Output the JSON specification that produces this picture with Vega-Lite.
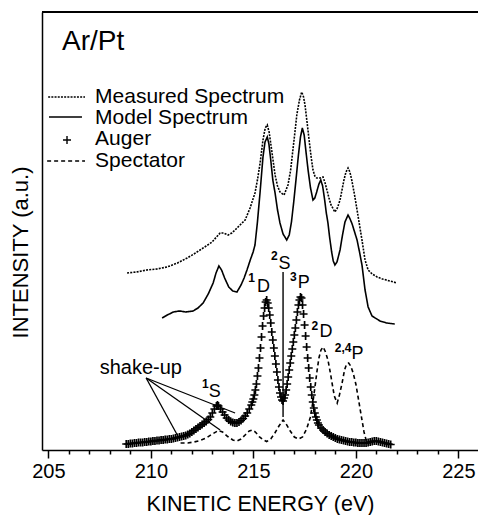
{
"$schema":"https://vega.github.io/schema/vega-lite/v6.json",
"width":436,"height":438,
"autosize":{"type":"none"},
"padding":{"left":42,"top":12,"right":0,"bottom":65},
"background":"white",
"config":{"view":{"stroke":null},"text":{"font":"Liberation Sans","color":"black"}},
"datasets":{
"spectra":[
{"s":"Measured","x":208.84,"y":177},{"s":"Measured","x":209.3,"y":178},{"s":"Measured","x":209.8,"y":180},{"s":"Measured","x":210.3,"y":181},{"s":"Measured","x":210.79,"y":183},{"s":"Measured","x":211.3,"y":187},{"s":"Measured","x":211.77,"y":192},{"s":"Measured","x":212.1,"y":196},{"s":"Measured","x":212.4,"y":200},{"s":"Measured","x":212.7,"y":204},{"s":"Measured","x":212.99,"y":208},{"s":"Measured","x":213.2,"y":213},{"s":"Measured","x":213.38,"y":217},{"s":"Measured","x":213.55,"y":217},{"s":"Measured","x":213.77,"y":215},{"s":"Measured","x":213.95,"y":217},{"s":"Measured","x":214.11,"y":220},{"s":"Measured","x":214.35,"y":225},{"s":"Measured","x":214.6,"y":230},{"s":"Measured","x":214.84,"y":242},{"s":"Measured","x":215.08,"y":257},{"s":"Measured","x":215.2,"y":270},{"s":"Measured","x":215.33,"y":287},{"s":"Measured","x":215.47,"y":310},{"s":"Measured","x":215.58,"y":322},{"s":"Measured","x":215.68,"y":325},{"s":"Measured","x":215.77,"y":318},{"s":"Measured","x":215.86,"y":305},{"s":"Measured","x":215.96,"y":290},{"s":"Measured","x":216.06,"y":275},{"s":"Measured","x":216.18,"y":264},{"s":"Measured","x":216.3,"y":258},{"s":"Measured","x":216.5,"y":255},{"s":"Measured","x":216.69,"y":265},{"s":"Measured","x":216.82,"y":280},{"s":"Measured","x":216.93,"y":300},{"s":"Measured","x":217.03,"y":318},{"s":"Measured","x":217.12,"y":335},{"s":"Measured","x":217.25,"y":350},{"s":"Measured","x":217.36,"y":358},{"s":"Measured","x":217.45,"y":353},{"s":"Measured","x":217.52,"y":345},{"s":"Measured","x":217.62,"y":328},{"s":"Measured","x":217.72,"y":310},{"s":"Measured","x":217.82,"y":293},{"s":"Measured","x":217.91,"y":280},{"s":"Measured","x":218.0,"y":274},{"s":"Measured","x":218.09,"y":272},{"s":"Measured","x":218.25,"y":272},{"s":"Measured","x":218.4,"y":273},{"s":"Measured","x":218.5,"y":267},{"s":"Measured","x":218.59,"y":260},{"s":"Measured","x":218.69,"y":252},{"s":"Measured","x":218.79,"y":245},{"s":"Measured","x":218.98,"y":238},{"s":"Measured","x":219.1,"y":242},{"s":"Measured","x":219.23,"y":250},{"s":"Measured","x":219.42,"y":270},{"s":"Measured","x":219.52,"y":278},{"s":"Measured","x":219.62,"y":282},{"s":"Measured","x":219.71,"y":278},{"s":"Measured","x":219.8,"y":270},{"s":"Measured","x":219.93,"y":256},{"s":"Measured","x":220.06,"y":240},{"s":"Measured","x":220.18,"y":225},{"s":"Measured","x":220.3,"y":210},{"s":"Measured","x":220.45,"y":190},{"s":"Measured","x":220.6,"y":180},{"s":"Measured","x":220.8,"y":176},{"s":"Measured","x":221.04,"y":173},{"s":"Measured","x":221.3,"y":171},{"s":"Measured","x":221.67,"y":169},{"s":"Measured","x":222.01,"y":167},
{"s":"Model","x":210.55,"y":132},{"s":"Model","x":210.8,"y":135},{"s":"Model","x":211.1,"y":138},{"s":"Model","x":211.4,"y":139},{"s":"Model","x":211.7,"y":138},{"s":"Model","x":212.06,"y":139},{"s":"Model","x":212.3,"y":142},{"s":"Model","x":212.55,"y":147},{"s":"Model","x":212.8,"y":156},{"s":"Model","x":213.04,"y":167},{"s":"Model","x":213.18,"y":177},{"s":"Model","x":213.32,"y":184},{"s":"Model","x":213.45,"y":180},{"s":"Model","x":213.6,"y":172},{"s":"Model","x":213.8,"y":163},{"s":"Model","x":214.0,"y":159},{"s":"Model","x":214.2,"y":158},{"s":"Model","x":214.4,"y":165},{"s":"Model","x":214.55,"y":172},{"s":"Model","x":214.69,"y":180},{"s":"Model","x":214.85,"y":190},{"s":"Model","x":214.99,"y":198},{"s":"Model","x":215.08,"y":205},{"s":"Model","x":215.2,"y":228},{"s":"Model","x":215.33,"y":258},{"s":"Model","x":215.47,"y":293},{"s":"Model","x":215.57,"y":308},{"s":"Model","x":215.68,"y":313},{"s":"Model","x":215.76,"y":306},{"s":"Model","x":215.85,"y":290},{"s":"Model","x":215.95,"y":270},{"s":"Model","x":216.06,"y":257},{"s":"Model","x":216.18,"y":240},{"s":"Model","x":216.3,"y":227},{"s":"Model","x":216.45,"y":216},{"s":"Model","x":216.63,"y":210},{"s":"Model","x":216.75,"y":215},{"s":"Model","x":216.86,"y":228},{"s":"Model","x":216.97,"y":248},{"s":"Model","x":217.08,"y":270},{"s":"Model","x":217.2,"y":295},{"s":"Model","x":217.3,"y":313},{"s":"Model","x":217.39,"y":322},{"s":"Model","x":217.48,"y":315},{"s":"Model","x":217.57,"y":298},{"s":"Model","x":217.67,"y":280},{"s":"Model","x":217.79,"y":262},{"s":"Model","x":217.91,"y":250},{"s":"Model","x":218.0,"y":252},{"s":"Model","x":218.09,"y":258},{"s":"Model","x":218.2,"y":266},{"s":"Model","x":218.29,"y":270},{"s":"Model","x":218.38,"y":264},{"s":"Model","x":218.48,"y":250},{"s":"Model","x":218.56,"y":237},{"s":"Model","x":218.64,"y":227},{"s":"Model","x":218.72,"y":213},{"s":"Model","x":218.82,"y":198},{"s":"Model","x":218.9,"y":189},{"s":"Model","x":218.98,"y":185},{"s":"Model","x":219.08,"y":188},{"s":"Model","x":219.23,"y":200},{"s":"Model","x":219.35,"y":215},{"s":"Model","x":219.47,"y":228},{"s":"Model","x":219.62,"y":235},{"s":"Model","x":219.72,"y":231},{"s":"Model","x":219.82,"y":226},{"s":"Model","x":219.94,"y":218},{"s":"Model","x":220.06,"y":210},{"s":"Model","x":220.18,"y":198},{"s":"Model","x":220.3,"y":185},{"s":"Model","x":220.45,"y":160},{"s":"Model","x":220.6,"y":143},{"s":"Model","x":220.79,"y":134},{"s":"Model","x":221.18,"y":129},{"s":"Model","x":221.5,"y":127},{"s":"Model","x":221.9,"y":126},
{"s":"Spectator","x":211.45,"y":7},{"s":"Spectator","x":211.8,"y":7},{"s":"Spectator","x":212.1,"y":8},{"s":"Spectator","x":212.4,"y":9.5},{"s":"Spectator","x":212.7,"y":12},{"s":"Spectator","x":213.0,"y":16},{"s":"Spectator","x":213.3,"y":19.5},{"s":"Spectator","x":213.5,"y":18},{"s":"Spectator","x":213.75,"y":13.5},{"s":"Spectator","x":214.0,"y":10},{"s":"Spectator","x":214.2,"y":9},{"s":"Spectator","x":214.4,"y":11},{"s":"Spectator","x":214.6,"y":15},{"s":"Spectator","x":214.8,"y":19},{"s":"Spectator","x":214.95,"y":20},{"s":"Spectator","x":215.1,"y":18},{"s":"Spectator","x":215.3,"y":13},{"s":"Spectator","x":215.5,"y":10},{"s":"Spectator","x":215.65,"y":8.5},{"s":"Spectator","x":215.85,"y":11},{"s":"Spectator","x":216.05,"y":17},{"s":"Spectator","x":216.25,"y":24},{"s":"Spectator","x":216.45,"y":30},{"s":"Spectator","x":216.6,"y":26},{"s":"Spectator","x":216.8,"y":19},{"s":"Spectator","x":217.0,"y":13},{"s":"Spectator","x":217.2,"y":11},{"s":"Spectator","x":217.4,"y":13},{"s":"Spectator","x":217.6,"y":21},{"s":"Spectator","x":217.77,"y":32},{"s":"Spectator","x":217.9,"y":47},{"s":"Spectator","x":218.0,"y":62},{"s":"Spectator","x":218.1,"y":78},{"s":"Spectator","x":218.2,"y":92},{"s":"Spectator","x":218.3,"y":100},{"s":"Spectator","x":218.4,"y":103},{"s":"Spectator","x":218.5,"y":99},{"s":"Spectator","x":218.64,"y":90},{"s":"Spectator","x":218.75,"y":78},{"s":"Spectator","x":218.84,"y":67},{"s":"Spectator","x":218.95,"y":54},{"s":"Spectator","x":219.09,"y":47},{"s":"Spectator","x":219.2,"y":55},{"s":"Spectator","x":219.33,"y":67},{"s":"Spectator","x":219.45,"y":80},{"s":"Spectator","x":219.55,"y":86},{"s":"Spectator","x":219.65,"y":87},{"s":"Spectator","x":219.75,"y":84},{"s":"Spectator","x":219.87,"y":77},{"s":"Spectator","x":220.0,"y":66},{"s":"Spectator","x":220.11,"y":53},{"s":"Spectator","x":220.2,"y":42},{"s":"Spectator","x":220.3,"y":30},{"s":"Spectator","x":220.4,"y":18},{"s":"Spectator","x":220.5,"y":10},{"s":"Spectator","x":220.58,"y":7}
],
"auger":[
{"x":208.8,"y":6},{"x":208.9,"y":6},{"x":209.0,"y":6.5},{"x":209.1,"y":6.5},{"x":209.2,"y":7},{"x":209.3,"y":7},{"x":209.4,"y":7.5},{"x":209.5,"y":7.5},{"x":209.6,"y":7.5},{"x":209.7,"y":8},{"x":209.8,"y":8},{"x":209.9,"y":8.5},{"x":210.0,"y":8.5},{"x":210.1,"y":9},{"x":210.2,"y":9},{"x":210.3,"y":9.5},{"x":210.4,"y":9.5},{"x":210.5,"y":10},{"x":210.6,"y":10},{"x":210.7,"y":10.5},{"x":210.8,"y":10.5},{"x":210.9,"y":11},{"x":211.0,"y":11},{"x":211.1,"y":11.5},{"x":211.2,"y":12},{"x":211.3,"y":12.5},{"x":211.4,"y":13},{"x":211.5,"y":13.5},{"x":211.6,"y":14},{"x":211.7,"y":14.5},{"x":211.8,"y":15.5},{"x":211.9,"y":16.5},{"x":212.0,"y":18},{"x":212.1,"y":19.5},{"x":212.2,"y":21},{"x":212.3,"y":22.5},{"x":212.4,"y":24},{"x":212.5,"y":25.5},{"x":212.6,"y":27},{"x":212.7,"y":28.5},{"x":212.8,"y":30.5},{"x":212.9,"y":33},{"x":213.0,"y":37},{"x":213.1,"y":41},{"x":213.2,"y":44},{"x":213.25,"y":45},{"x":213.3,"y":44},{"x":213.4,"y":41},{"x":213.5,"y":38},{"x":213.6,"y":35},{"x":213.7,"y":32},{"x":213.8,"y":30},{"x":213.9,"y":28.5},{"x":214.0,"y":27.5},{"x":214.1,"y":27},{"x":214.2,"y":27},{"x":214.3,"y":28},{"x":214.4,"y":29.5},{"x":214.5,"y":31.5},{"x":214.6,"y":34},{"x":214.7,"y":37},{"x":214.8,"y":41},{"x":214.9,"y":45},{"x":214.95,"y":48},{"x":215.0,"y":51},{"x":215.05,"y":55},{"x":215.1,"y":60},{"x":215.15,"y":66},{"x":215.2,"y":74},{"x":215.25,"y":82},{"x":215.3,"y":92},{"x":215.35,"y":102},{"x":215.4,"y":113},{"x":215.45,"y":124},{"x":215.5,"y":134},{"x":215.55,"y":142},{"x":215.6,"y":148},{"x":215.65,"y":150},{"x":215.7,"y":147},{"x":215.75,"y":142},{"x":215.8,"y":135},{"x":215.85,"y":127},{"x":215.9,"y":118},{"x":215.95,"y":110},{"x":216.0,"y":102},{"x":216.05,"y":94},{"x":216.1,"y":86},{"x":216.15,"y":78},{"x":216.2,"y":70},{"x":216.25,"y":63},{"x":216.3,"y":57},{"x":216.35,"y":53},{"x":216.4,"y":50},{"x":216.45,"y":49},{"x":216.5,"y":52},{"x":216.55,"y":55},{"x":216.6,"y":60},{"x":216.65,"y":66},{"x":216.7,"y":73},{"x":216.75,"y":80},{"x":216.8,"y":87},{"x":216.85,"y":94},{"x":216.9,"y":101},{"x":216.95,"y":108},{"x":217.0,"y":115},{"x":217.05,"y":122},{"x":217.1,"y":130},{"x":217.15,"y":138},{"x":217.2,"y":145},{"x":217.25,"y":150},{"x":217.3,"y":153},{"x":217.35,"y":152},{"x":217.4,"y":145},{"x":217.45,"y":136},{"x":217.5,"y":125},{"x":217.55,"y":114},{"x":217.6,"y":103},{"x":217.65,"y":92},{"x":217.7,"y":82},{"x":217.75,"y":72},{"x":217.8,"y":63},{"x":217.85,"y":55},{"x":217.9,"y":48},{"x":217.95,"y":42},{"x":218.0,"y":37},{"x":218.05,"y":33},{"x":218.1,"y":30},{"x":218.15,"y":27},{"x":218.2,"y":25},{"x":218.3,"y":22},{"x":218.4,"y":20},{"x":218.5,"y":18},{"x":218.6,"y":16.5},{"x":218.7,"y":15},{"x":218.8,"y":14},{"x":218.9,"y":13},{"x":219.0,"y":12},{"x":219.1,"y":11},{"x":219.2,"y":10.5},{"x":219.3,"y":10},{"x":219.4,"y":9.5},{"x":219.5,"y":9},{"x":219.6,"y":8.5},{"x":219.7,"y":8},{"x":219.8,"y":8},{"x":219.9,"y":7.5},{"x":220.0,"y":7.5},{"x":220.1,"y":7},{"x":220.2,"y":7},{"x":220.3,"y":7},{"x":220.4,"y":7},{"x":220.5,"y":7},{"x":220.6,"y":7.5},{"x":220.7,"y":8},{"x":220.8,"y":8.5},{"x":220.9,"y":9},{"x":221.0,"y":9},{"x":221.1,"y":8.5},{"x":221.2,"y":8},{"x":221.3,"y":7.5},{"x":221.4,"y":7},{"x":221.5,"y":6.5},{"x":221.6,"y":6},{"x":221.7,"y":5.5}
],
"line2S":[{"x":216.45,"y":33,"y2":178}],
"shake":[{"x":209.77,"y":72,"x2":211.29,"y2":15},{"x":209.77,"y":72,"x2":213.38,"y2":20},{"x":209.77,"y":72,"x2":214.11,"y2":37}],
"frame":[{"x":204.69,"x2":225.96,"y":438}],
"legendLines":[{"s":"Measured","x":204.99,"x2":206.79,"y":353},{"s":"Model","x":205.03,"x2":206.64,"y":333},{"s":"Spectator","x":204.94,"x2":206.79,"y":289}],
"legendPlus":[{"x":205.91,"y":310}],
"legendText":[{"t":"Measured Spectrum","x":207.28,"y":353},{"t":"Model Spectrum","x":207.28,"y":332},{"t":"Auger","x":207.28,"y":311},{"t":"Spectator","x":207.28,"y":289}],
"letters":[{"t":"S","x":213.12,"y":58.5},{"t":"D","x":215.5,"y":163.5},{"t":"S","x":216.52,"y":186.5},{"t":"P","x":217.46,"y":167.5},{"t":"D","x":218.54,"y":118.5},{"t":"P","x":220.08,"y":96.5}],
"sups":[{"t":"1","x":212.66,"y":66.5},{"t":"1","x":214.92,"y":172.5},{"t":"2","x":216.02,"y":194},{"t":"3","x":216.95,"y":173},{"t":"2","x":218.0,"y":124},{"t":"2,4","x":219.38,"y":102.5}],
"shakeText":[{"t":"shake-up","x":209.51,"y":82}],
"title":[{"t":"Ar/Pt","x":205.67,"y":408}]
},
"encoding":{
"x":{"field":"x","type":"quantitative","scale":{"domain":[204.69,225.96],"nice":false,"zero":false},
"axis":{"values":[205,206,207,208,209,210,211,212,213,214,215,216,217,218,219,220,221,222,223,224,225],
"labelExpr":"datum.value % 5 === 0 ? datum.label : ''",
"tickSize":{"condition":{"test":"datum.value % 5 === 0","value":8},"value":4},
"tickColor":"black","tickWidth":1.5,"domainColor":"black","domainWidth":1.5,
"labelFont":"Liberation Sans","labelFontSize":20,"labelColor":"black","labelPadding":3,"labelFlush":false,"labelOverlap":false,"labelBound":false,
"grid":false,"title":"KINETIC ENERGY (eV)","titleFont":"Liberation Sans","titleFontSize":21.5,"titleFontWeight":"normal","titleColor":"black","titlePadding":12}},
"y":{"field":"y","type":"quantitative","scale":{"domain":[0,438],"nice":false,"zero":false},
"axis":{"ticks":false,"labels":false,"grid":false,"domainColor":"black","domainWidth":1.5,
"title":"INTENSITY (a.u.)","titleFont":"Liberation Sans","titleFontSize":22,"titleFontWeight":"normal","titleColor":"black","titlePadding":10,"titleY":240}}
},
"layer":[
{"data":{"name":"spectra"},"mark":{"type":"line","strokeWidth":1.6,"color":"black"},
 "encoding":{"strokeDash":{"field":"s","type":"nominal","scale":{"domain":["Measured","Model","Spectator"],"range":[[2,1.2],[1,0],[4,3]]},"legend":null}}},
{"data":{"name":"auger"},"mark":{"type":"point","shape":"M-1,0L1,0M0,-1L0,1","size":64,"filled":false,"color":"black","strokeWidth":1.7,"opacity":1}},
{"data":{"name":"line2S"},"mark":{"type":"rule","color":"black","strokeWidth":1.4},"encoding":{"y2":{"field":"y2"}}},
{"data":{"name":"shake"},"mark":{"type":"rule","color":"black","strokeWidth":1.3},"encoding":{"x2":{"field":"x2"},"y2":{"field":"y2"}}},
{"data":{"name":"frame"},"mark":{"type":"rule","color":"black","strokeWidth":2},"encoding":{"x2":{"field":"x2"}}},
{"data":{"name":"legendLines"},"mark":{"type":"rule","color":"black","strokeWidth":1.6},
 "encoding":{"x2":{"field":"x2"},"strokeDash":{"field":"s","type":"nominal","scale":{"domain":["Measured","Model","Spectator"],"range":[[2,1.2],[1,0],[4,3]]},"legend":null}}},
{"data":{"name":"legendPlus"},"mark":{"type":"point","shape":"M-1,0L1,0M0,-1L0,1","size":64,"filled":false,"color":"black","strokeWidth":1.4,"opacity":1}},
{"data":{"name":"legendText"},"mark":{"type":"text","align":"left","baseline":"middle","fontSize":21,"font":"Liberation Sans","color":"black"},"encoding":{"text":{"field":"t"}}},
{"data":{"name":"letters"},"mark":{"type":"text","align":"center","baseline":"middle","fontSize":18,"font":"Liberation Sans","color":"black"},"encoding":{"text":{"field":"t"}}},
{"data":{"name":"sups"},"mark":{"type":"text","align":"center","baseline":"middle","fontSize":12,"font":"Liberation Sans","color":"black","fontWeight":"bold"},"encoding":{"text":{"field":"t"}}},
{"data":{"name":"shakeText"},"mark":{"type":"text","align":"center","baseline":"middle","fontSize":20,"font":"Liberation Sans","color":"black"},"encoding":{"text":{"field":"t"}}},
{"data":{"name":"title"},"mark":{"type":"text","align":"left","baseline":"middle","fontSize":28,"font":"Liberation Sans","color":"black"},"encoding":{"text":{"field":"t"}}}
]
}
